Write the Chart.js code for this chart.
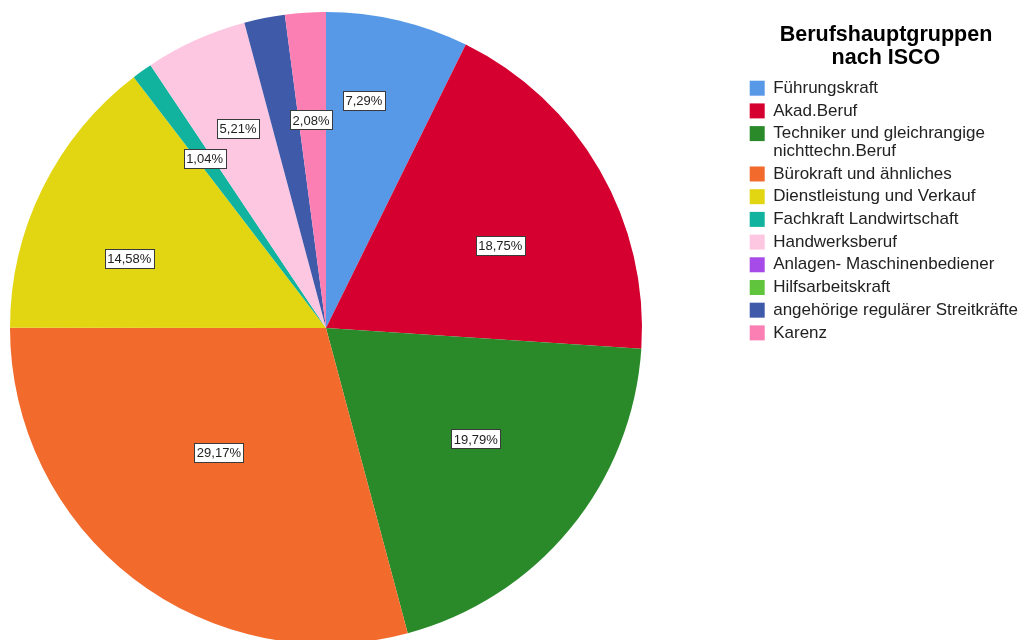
<!DOCTYPE html>
<html>
<head>
<meta charset="utf-8">
<script src="https://cdn.jsdelivr.net/npm/chart.js@4.4.1/dist/chart.umd.min.js"></script>
<style>
  html, body { margin: 0; padding: 0; background: #fff; }
  #wrap { width: 1025px; height: 640px; position: relative; }
</style>
</head>
<body>
<div id="wrap"><canvas id="myChart"></canvas></div>
<script>
// Berufshauptgruppen nach ISCO (Prozent)
const categories = [
  'Führungskraft',
  'Akad.Beruf',
  ['Techniker und gleichrangige', 'nichttechn.Beruf'],
  'Bürokraft und ähnliches',
  'Dienstleistung und Verkauf',
  'Fachkraft Landwirtschaft',
  'Handwerksberuf',
  'Anlagen- Maschinenbediener',
  'Hilfsarbeitskraft',
  'angehörige regulärer Streitkräfte',
  'Karenz'
]
const values = [7.29, 18.75, 19.79, 29.17, 14.58, 1.04, 5.21, 0, 0, 2.08, 2.08]
const colors = ['#5799e6', '#d5002f', '#2a8a2a', '#f26a2c', '#e2d613', '#11b39f',
  '#fdc6e1', '#a64ae8', '#61c43d', '#3f5aa8', '#fb7fb3']

// Lage der Beschriftung: [Anteil des Segmentwinkels, Anteil vom Radius], null = keine
const labelPos = [[0.36, 0.73], [0.57, 0.61], [0.46, 0.59], [0.53, 0.52], [0.37, 0.66],
  [0.5, 0.66], [0.53, 0.69], null, null, null, [0.45, 0.66]]

Chart.defaults.font.family = '"Liberation Sans", Arial, sans-serif'
Chart.defaults.color = '#222'

// Platz für Torte und Legende wie in SPSS
const placeBoxes = {
  id: 'placeBoxes',
  afterLayout(chart) {
    const lg = chart.legend
    const dx = 744 - lg.left
    lg.left += dx
    lg.right += dx
    chart.chartArea.left = 0
    chart.chartArea.right = 652
    chart.chartArea.top = 16
    chart.chartArea.bottom = 640
    chart.chartArea.width = 652
    chart.chartArea.height = 624
  }
}

const valueLabels = {
  id: 'valueLabels',
  afterDatasetsDraw(chart) {
    const ctx = chart.ctx
    const meta = chart.getDatasetMeta(0)
    ctx.save()
    ctx.font = '13px "Liberation Sans", Arial, sans-serif'
    ctx.textAlign = 'center'
    ctx.textBaseline = 'middle'
    meta.data.forEach((arc, i) => {
      if (labelPos[i] == null || !values[i]) return
      const p = arc.getProps(['x', 'y', 'startAngle', 'endAngle', 'outerRadius'], true)
      const a = p.startAngle + (p.endAngle - p.startAngle) * labelPos[i][0]
      const r = p.outerRadius * labelPos[i][1]
      const x = p.x + Math.cos(a) * r
      const y = p.y + Math.sin(a) * r
      const txt = values[i].toFixed(2).replace('.', ',') + '%'
      const w = Math.round(ctx.measureText(txt).width + 5)
      const h = 19
      const bx = Math.round(x - w / 2) + 0.5
      const by = Math.round(y - h / 2) + 0.5
      ctx.fillStyle = '#fff'
      ctx.fillRect(bx, by, w, h)
      ctx.strokeStyle = '#3a3a3a'
      ctx.lineWidth = 1
      ctx.strokeRect(bx, by, w, h)
      ctx.fillStyle = '#222'
      ctx.fillText(txt, x, y + 1)
    })
    ctx.restore()
  }
}

let ctx = document.querySelector('#myChart')
new Chart(ctx, {
  type: 'pie',
  data: {
    labels: categories,
    datasets: [
      {
        data: values,
        backgroundColor: colors,
        borderWidth: 0,
        radius: 316,
        clip: false
      }
    ]
  },
  options: {
    responsive: true,
    maintainAspectRatio: false,
    animation: false,
    layout: {
      padding: { left: 0, right: 0, top: 14, bottom: 0 }
    },
    plugins: {
      tooltip: { enabled: false },
      legend: {
        position: 'right',
        align: 'start',
        title: {
          display: true,
          text: ['Berufshauptgruppen', 'nach ISCO'],
          font: { size: 21.5, weight: 'bold', lineHeight: 1.07 },
          color: '#000',
          padding: { top: 10, bottom: 27 }
        },
        labels: {
          boxWidth: 15,
          boxHeight: 15,
          padding: 5.7,
          font: { size: 17, lineHeight: 1.02 },
          color: '#222'
        }
      }
    }
  },
  plugins: [placeBoxes, valueLabels]
})
</script>
</body>
</html>
